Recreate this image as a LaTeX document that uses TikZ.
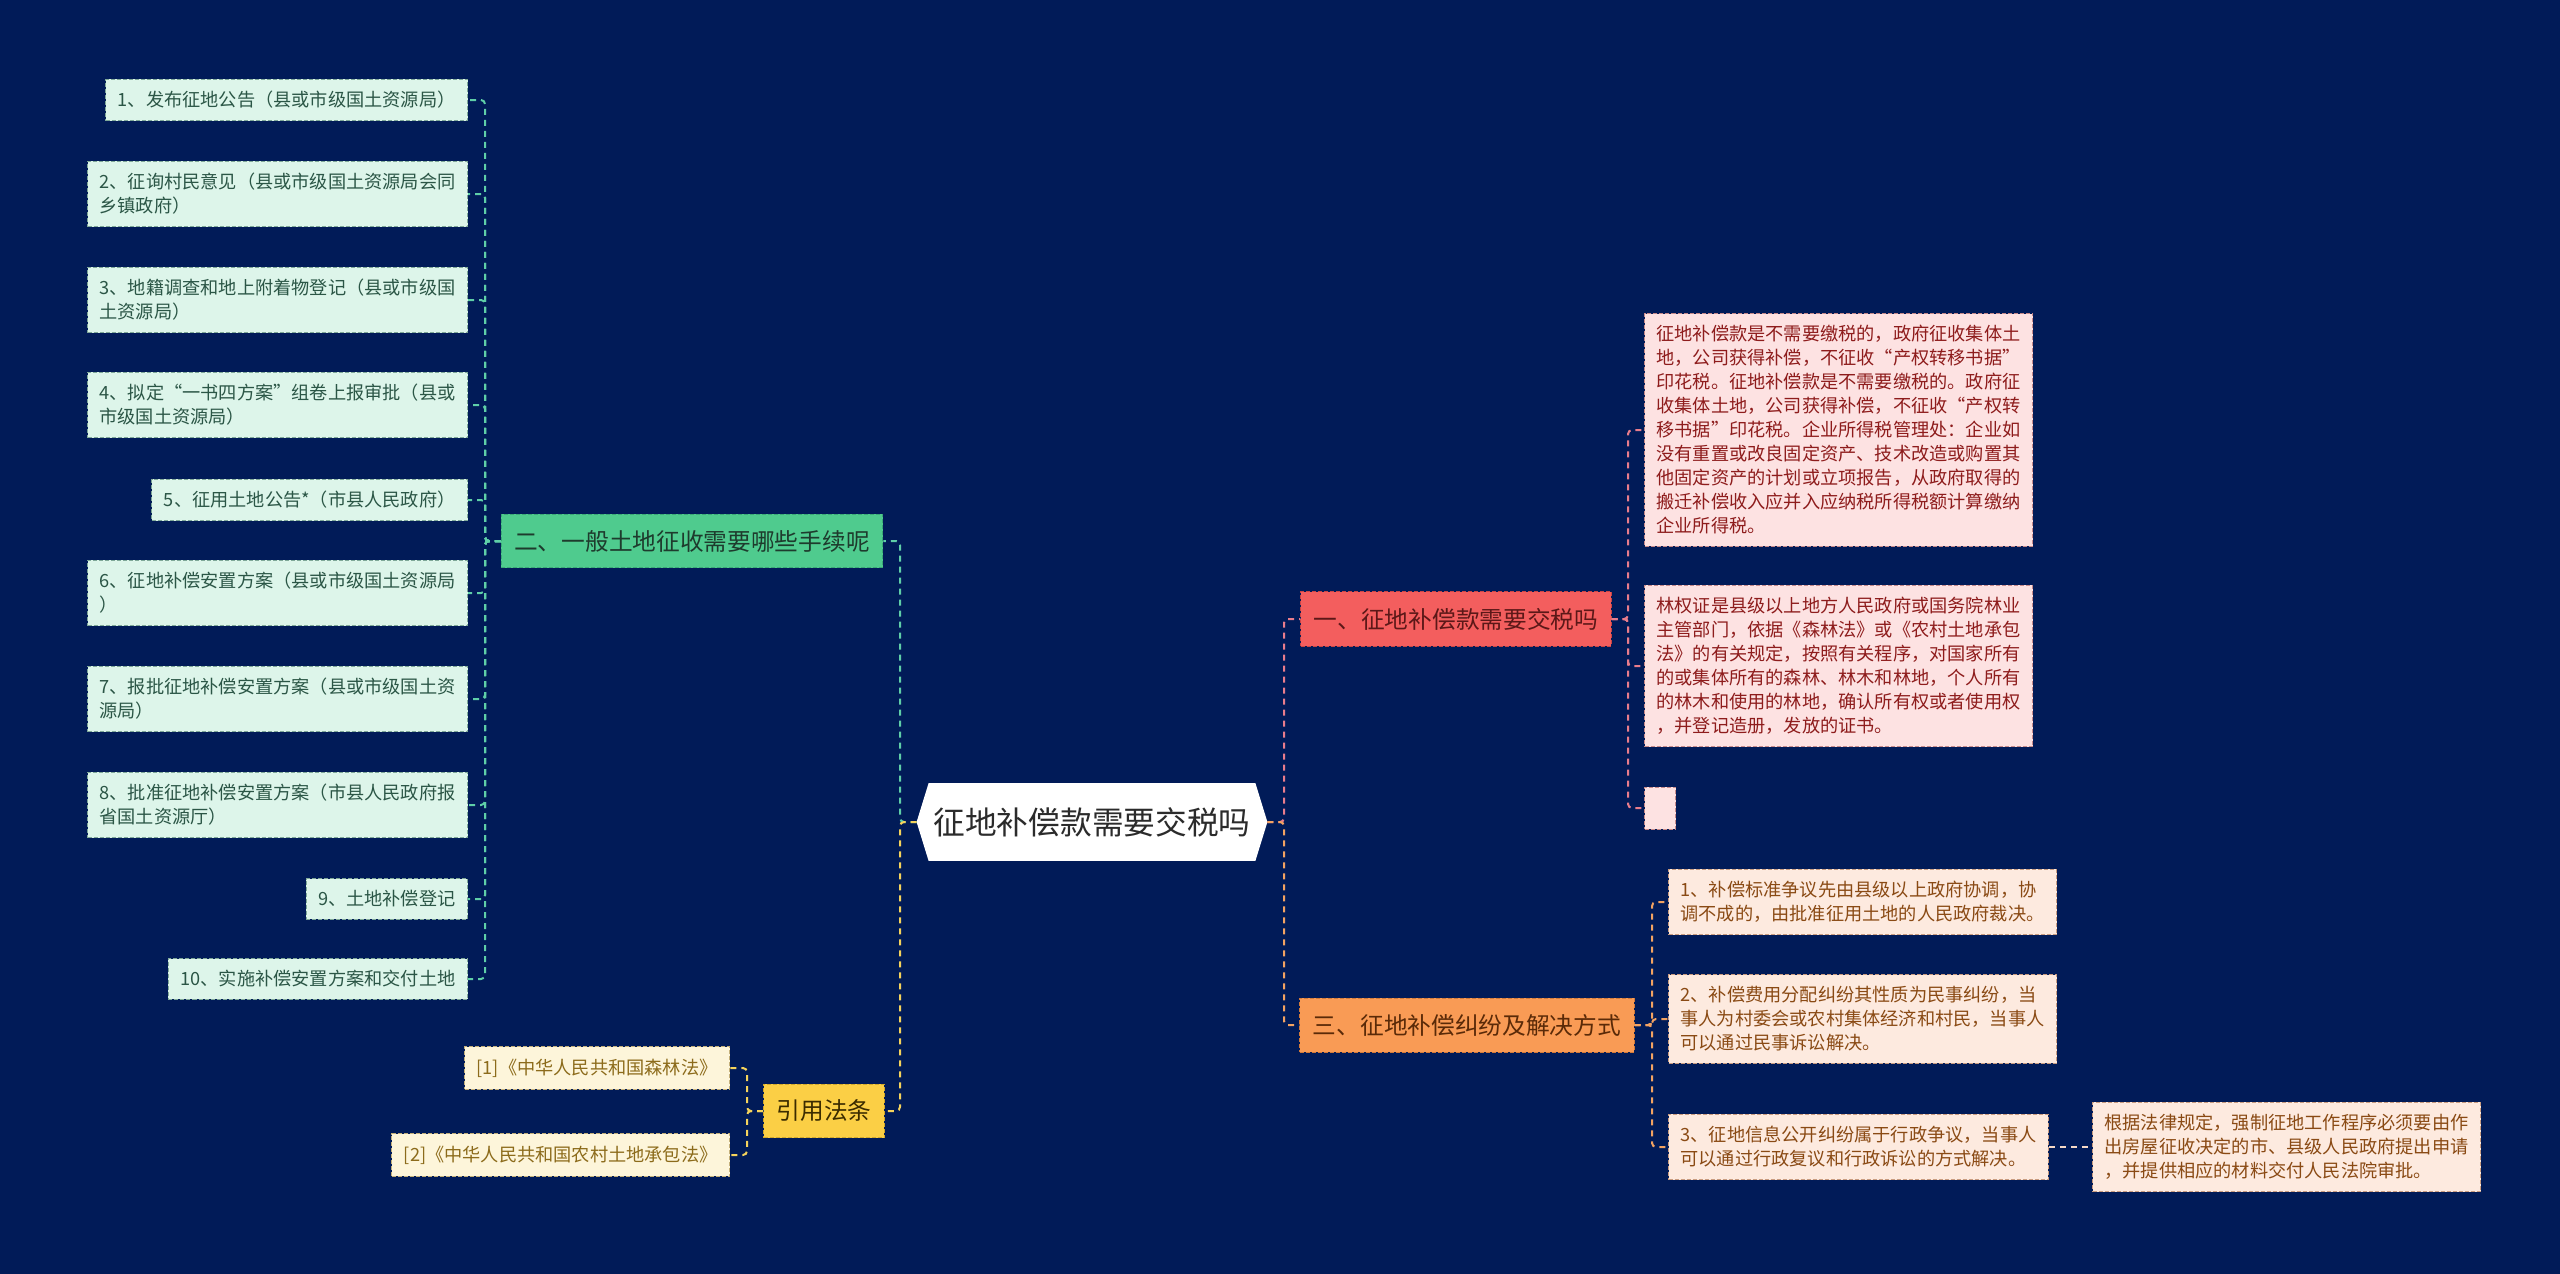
\documentclass[tikz,border=0pt]{standalone}
\usepackage{fontspec}
\setmainfont{Noto Sans CJK SC}
\pgfdeclarelayer{back}
\pgfsetlayers{back,main}
\definecolor{navy}{HTML}{011B58}
\definecolor{rootText}{HTML}{2B2B2B}
\definecolor{gFill}{HTML}{4FCB8E}
\definecolor{gLine}{HTML}{3AA876}
\definecolor{gText}{HTML}{1E3B2D}
\definecolor{gLeafFill}{HTML}{DDF5EA}
\definecolor{gLeafLine}{HTML}{7FA898}
\definecolor{gLeafText}{HTML}{2B5646}
\definecolor{gLink}{HTML}{5FCFA8}
\definecolor{rFill}{HTML}{F35E5E}
\definecolor{rLine}{HTML}{C94545}
\definecolor{rText}{HTML}{5C1818}
\definecolor{rLeafFill}{HTML}{FDE2E2}
\definecolor{rLeafLine}{HTML}{C78A8A}
\definecolor{rLeafText}{HTML}{8E1C1C}
\definecolor{rLink}{HTML}{E97D8C}
\definecolor{oFill}{HTML}{F99B55}
\definecolor{oLine}{HTML}{D27A3A}
\definecolor{oText}{HTML}{5A2A08}
\definecolor{oLeafFill}{HTML}{FDEADF}
\definecolor{oLeafLine}{HTML}{C99C80}
\definecolor{oLeafText}{HTML}{8A4A14}
\definecolor{oLink}{HTML}{F3A362}
\definecolor{oLinkPale}{HTML}{F6D9C6}
\definecolor{yFill}{HTML}{FBCF45}
\definecolor{yLine}{HTML}{D2A82A}
\definecolor{yText}{HTML}{3B2C00}
\definecolor{yLeafFill}{HTML}{FDF5DA}
\definecolor{yLeafLine}{HTML}{C4B07A}
\definecolor{yLeafText}{HTML}{8C6B1B}
\definecolor{yLink}{HTML}{F5D35C}
\tikzset{
  rootbox/.style={inner sep=0pt,minimum width=175pt,minimum height=38.5pt,text=rootText,font=\fontsize{15.85}{18}\selectfont},
  branch/.style={line width=.5pt,dash pattern=on 2pt off 1pt,inner xsep=6.5pt,inner ysep=8pt,font=\fontsize{11.85}{14}\selectfont},
  leaf/.style={line width=.5pt,dash pattern=on 2pt off 1pt,inner xsep=6pt,inner ysep=6pt,align=left,font=\fontsize{9.1}{12}\selectfont},
  gbranch/.style={branch,fill=gFill,draw=gLine,text=gText},
  rbranch/.style={branch,fill=rFill,draw=rLine,text=rText},
  obranch/.style={branch,fill=oFill,draw=oLine,text=oText},
  ybranch/.style={branch,fill=yFill,draw=yLine,text=yText},
  gleaf/.style={leaf,fill=gLeafFill,draw=gLeafLine,text=gLeafText,anchor=east},
  rleaf/.style={leaf,fill=rLeafFill,draw=rLeafLine,text=rLeafText,anchor=west},
  oleaf/.style={leaf,fill=oLeafFill,draw=oLeafLine,text=oLeafText,anchor=west},
  yleaf/.style={leaf,fill=yLeafFill,draw=yLeafLine,text=yLeafText,anchor=east},
  link/.style={line width=1pt,dash pattern=on 3pt off 2.5pt,rounded corners=2pt},
}
\begin{document}
\begin{tikzpicture}[x=.5pt,y=-.5pt]
\path[use as bounding box] (0,0) rectangle (2560,1274);
% centre
\node[rootbox] (root) at (1092,822) {征地补偿款需要交税吗};
% branches
\node[gbranch] (procedure) at (692,541) {二、一般土地征收需要哪些手续呢};
\node[ybranch] (laws) at (824,1111) {引用法条};
\node[rbranch] (taxq) at (1456,619) {一、征地补偿款需要交税吗};
\node[obranch] (dispute) at (1467,1025) {三、征地补偿纠纷及解决方式};
% procedure steps
\node[gleaf] (step1) at (468,100) {1、发布征地公告（县或市级国土资源局）};
\node[gleaf] (step2) at (468,194) {2、征询村民意见（县或市级国土资源局会同\\乡镇政府）};
\node[gleaf] (step3) at (468,300) {3、地籍调查和地上附着物登记（县或市级国\\土资源局）};
\node[gleaf] (step4) at (468,405) {4、拟定“一书四方案”组卷上报审批（县或\\市级国土资源局）};
\node[gleaf] (step5) at (468,500) {5、征用土地公告*（市县人民政府）};
\node[gleaf] (step6) at (468,593) {6、征地补偿安置方案（县或市级国土资源局\\）};
\node[gleaf] (step7) at (468,699) {7、报批征地补偿安置方案（县或市级国土资\\源局）};
\node[gleaf] (step8) at (468,805) {8、批准征地补偿安置方案（市县人民政府报\\省国土资源厅）};
\node[gleaf] (step9) at (468,899) {9、土地补偿登记};
\node[gleaf] (step10) at (468,979) {10、实施补偿安置方案和交付土地};
% cited laws
\node[yleaf] (law1) at (730,1068) {[1]《中华人民共和国森林法》};
\node[yleaf] (law2) at (730,1155) {[2]《中华人民共和国农村土地承包法》};
% tax answers
\node[rleaf] (tax1) at (1644,430) {征地补偿款是不需要缴税的，政府征收集体土\\地，公司获得补偿，不征收“产权转移书据”\\印花税。征地补偿款是不需要缴税的。政府征\\收集体土地，公司获得补偿，不征收“产权转\\移书据”印花税。企业所得税管理处：企业如\\没有重置或改良固定资产、技术改造或购置其\\他固定资产的计划或立项报告，从政府取得的\\搬迁补偿收入应并入应纳税所得税额计算缴纳\\企业所得税。};
\node[rleaf] (tax2) at (1644,666) {林权证是县级以上地方人民政府或国务院林业\\主管部门，依据《森林法》或《农村土地承包\\法》的有关规定，按照有关程序，对国家所有\\的或集体所有的森林、林木和林地，个人所有\\的林木和使用的林地，确认所有权或者使用权\\，并登记造册，发放的证书。};
\node[rleaf,minimum width=15.5pt,minimum height=21pt] (tax3) at (1644,808) {};
% dispute answers
\node[oleaf] (disp1) at (1668,902) {1、补偿标准争议先由县级以上政府协调，协\\调不成的，由批准征用土地的人民政府裁决。};
\node[oleaf] (disp2) at (1668,1019) {2、补偿费用分配纠纷其性质为民事纠纷，当\\事人为村委会或农村集体经济和村民，当事人\\可以通过民事诉讼解决。};
\node[oleaf] (disp3) at (1668,1147) {3、征地信息公开纠纷属于行政争议，当事人\\可以通过行政复议和行政诉讼的方式解决。};
\node[oleaf] (court) at (2092,1147) {根据法律规定，强制征地工作程序必须要由作\\出房屋征收决定的市、县级人民政府提出申请\\，并提供相应的材料交付人民法院审批。};
% background and centre shape
\begin{pgfonlayer}{back}
\fill[navy] (0,0) rectangle (2560,1274);
\fill[white] (root.west) -- ([xshift=6pt]root.north west) -- ([xshift=-6pt]root.north east) -- (root.east) -- ([xshift=-6pt]root.south east) -- ([xshift=6pt]root.south west) -- cycle;
\end{pgfonlayer}
% bus lines
\coordinate (busC) at (900,0);
\coordinate (busR) at (1284,0);
\coordinate (busG) at (485,0);
\coordinate (busY) at (747,0);
\coordinate (busT) at (1628,0);
\coordinate (busO) at (1652,0);
% connectors
\draw[link,gLink] (root.west) -- (root.west -| busC) |- (procedure.east);
\draw[link,yLink] (root.west) -- (root.west -| busC) |- (laws.east);
\draw[link,rLink] (root.east) -- (root.east -| busR) |- (taxq.west);
\draw[link,oLink] (root.east) -- (root.east -| busR) |- (dispute.west);
\draw[link,gLink] (procedure.west) -- (procedure.west -| busG) |- (step1.east);
\draw[link,gLink] (procedure.west) -- (procedure.west -| busG) |- (step2.east);
\draw[link,gLink] (procedure.west) -- (procedure.west -| busG) |- (step3.east);
\draw[link,gLink] (procedure.west) -- (procedure.west -| busG) |- (step4.east);
\draw[link,gLink] (procedure.west) -- (procedure.west -| busG) |- (step5.east);
\draw[link,gLink] (procedure.west) -- (procedure.west -| busG) |- (step6.east);
\draw[link,gLink] (procedure.west) -- (procedure.west -| busG) |- (step7.east);
\draw[link,gLink] (procedure.west) -- (procedure.west -| busG) |- (step8.east);
\draw[link,gLink] (procedure.west) -- (procedure.west -| busG) |- (step9.east);
\draw[link,gLink] (procedure.west) -- (procedure.west -| busG) |- (step10.east);
\draw[link,yLink] (laws.west) -- (laws.west -| busY) |- (law1.east);
\draw[link,yLink] (laws.west) -- (laws.west -| busY) |- (law2.east);
\draw[link,rLink] (taxq.east) -- (taxq.east -| busT) |- (tax1.west);
\draw[link,rLink] (taxq.east) -- (taxq.east -| busT) |- (tax2.west);
\draw[link,rLink] (taxq.east) -- (taxq.east -| busT) |- (tax3.west);
\draw[link,oLink] (dispute.east) -- (dispute.east -| busO) |- (disp1.west);
\draw[link,oLink] (dispute.east) -- (dispute.east -| busO) |- (disp2.west);
\draw[link,oLink] (dispute.east) -- (dispute.east -| busO) |- (disp3.west);
\draw[link,oLinkPale] (disp3.east) -- (court.west);
\end{tikzpicture}
\end{document}
